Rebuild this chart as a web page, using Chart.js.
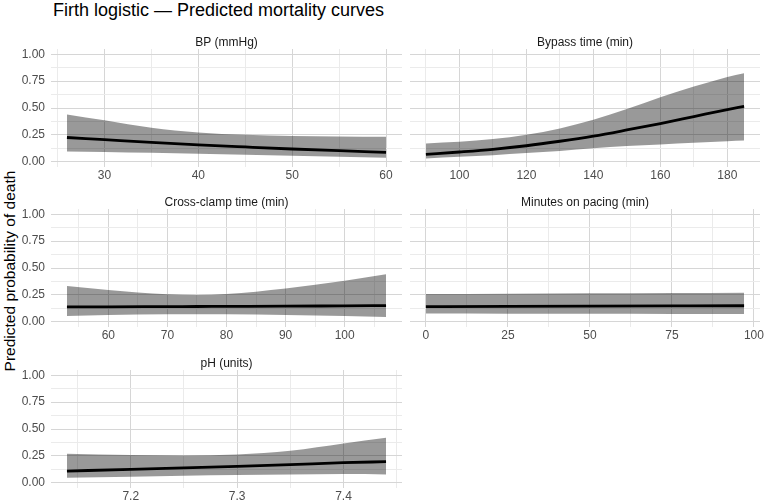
<!DOCTYPE html>
<html>
<head>
<meta charset="utf-8">
<script src="https://cdn.jsdelivr.net/npm/chart.js@4.4.1/dist/chart.umd.min.js"></script>
<style>
  body { margin: 0; background: #fff; }
  #wrap { position: relative; width: 767px; height: 502px; overflow: hidden; font-family: "Liberation Sans", Arial, sans-serif; }
  #wrap canvas { position: absolute; }
  #title { position: absolute; left: 53px; top: 0; font-size: 18px; line-height: 20px; color: #000; white-space: nowrap; }
  #ytitle { position: absolute; left: 10px; top: 271px; font-size: 15.5px; line-height: 18px; color: #000; white-space: nowrap;
            transform: translate(-50%, -50%) rotate(-90deg); }
</style>
</head>
<body>
<div id="wrap">
  <div id="title">Firth logistic — Predicted mortality curves</div>
  <div id="ytitle">Predicted probability of death</div>
</div>
<script>
// titres des panneaux
const panelTitles = ['BP (mmHg)', 'Bypass time (min)', 'Cross-clamp time (min)', 'Minutes on pacing (min)', 'pH (units)']

// BP
const bpX   = [26, 30, 35, 40, 45, 50, 55, 60]
const bpFit = [0.225, 0.205, 0.18, 0.157, 0.137, 0.118, 0.102, 0.087]
const bpLo  = [0.095, 0.09, 0.082, 0.073, 0.064, 0.055, 0.045, 0.036]
const bpHi  = [0.44, 0.385, 0.315, 0.272, 0.25, 0.24, 0.235, 0.232]

// Bypass time
const bypassX   = [90, 100, 110, 120, 130, 140, 150, 160, 170, 180, 185]
const bypassFit = [0.068, 0.09, 0.115, 0.148, 0.19, 0.238, 0.295, 0.355, 0.42, 0.485, 0.515]
const bypassLo  = [0.03, 0.045, 0.06, 0.08, 0.1, 0.125, 0.145, 0.16, 0.175, 0.19, 0.197]
const bypassHi  = [0.17, 0.185, 0.21, 0.25, 0.31, 0.39, 0.49, 0.6, 0.7, 0.79, 0.825]

// Cross-clamp time
const clampX   = [53, 60, 70, 75, 80, 90, 100, 107]
const clampFit = [0.137, 0.138, 0.14, 0.141, 0.142, 0.144, 0.147, 0.149]
const clampLo  = [0.053, 0.062, 0.068, 0.069, 0.068, 0.062, 0.053, 0.043]
const clampHi  = [0.332, 0.295, 0.255, 0.248, 0.258, 0.31, 0.38, 0.441]

// Minutes on pacing
const pacingX   = [0, 25, 50, 75, 97]
const pacingFit = [0.14, 0.142, 0.144, 0.146, 0.148]
const pacingLo  = [0.075, 0.074, 0.073, 0.072, 0.071]
const pacingHi  = [0.258, 0.261, 0.264, 0.267, 0.27]

// pH
const phX   = [7.14, 7.2, 7.25, 7.3, 7.35, 7.4, 7.44]
const phFit = [0.108, 0.124, 0.138, 0.152, 0.168, 0.186, 0.195]
const phLo  = [0.046, 0.056, 0.064, 0.071, 0.076, 0.08, 0.077]
const phHi  = [0.269, 0.257, 0.254, 0.263, 0.297, 0.365, 0.418]

// graduations
const yMajor = [0, 0.25, 0.5, 0.75, 1]
const yMinor = [0.125, 0.375, 0.625, 0.875]
const bpMajor = [30, 40, 50, 60],            bpMinor = [25, 35, 45, 55]
const bypassMajor = [100, 120, 140, 160, 180], bypassMinor = [90, 110, 130, 150, 170]
const clampMajor = [60, 70, 80, 90, 100],     clampMinor = [55, 65, 75, 85, 95, 105]
const pacingMajor = [0, 25, 50, 75, 100],     pacingMinor = [12.5, 37.5, 62.5, 87.5]
const phMajor = [7.2, 7.3, 7.4],              phMinor = [7.15, 7.25, 7.35, 7.45]

const panels = [
  {x: bpX, fit: bpFit, lo: bpLo, hi: bpHi, major: bpMajor, minor: bpMinor, dec: 0, row: 0, col: 0},
  {x: bypassX, fit: bypassFit, lo: bypassLo, hi: bypassHi, major: bypassMajor, minor: bypassMinor, dec: 0, row: 0, col: 1},
  {x: clampX, fit: clampFit, lo: clampLo, hi: clampHi, major: clampMajor, minor: clampMinor, dec: 0, row: 1, col: 0},
  {x: pacingX, fit: pacingFit, lo: pacingLo, hi: pacingHi, major: pacingMajor, minor: pacingMinor, dec: 0, row: 1, col: 1},
  {x: phX, fit: phFit, lo: phLo, hi: phHi, major: phMajor, minor: phMinor, dec: 1, row: 2, col: 0}
]

// position des panneaux (zone de trace)
const rows = [[49, 167], [209, 327], [370, 488]]
const cols = [
  {left: 0, width: 412, padL: 0, padR: 10, yW: 51},
  {left: 400, width: 367, padL: 10, padR: 7, yW: 0}
]
const stripH = 18, xAxisH = 20
const FONT = '"Liberation Sans", Arial, sans-serif'

const isIn = (arr, v) => arr.some(a => Math.abs(a - v) < 1e-9)
const pts = (xs, ys) => xs.map((x, i) => ({x: x, y: ys[i]}))

const stripPlugin = {
  id: 'strip',
  afterDraw(chart, args, opts) {
    const {ctx, chartArea} = chart
    ctx.save()
    ctx.font = '12px ' + FONT
    ctx.fillStyle = '#1a1a1a'
    ctx.textAlign = 'center'
    ctx.textBaseline = 'middle'
    ctx.fillText(opts.text, (chartArea.left + chartArea.right) / 2, chartArea.top - 6)
    ctx.restore()
  }
}

const wrap = document.getElementById('wrap')
panels.forEach((p, i) => {
  const c = cols[p.col]
  const [t, b] = rows[p.row]
  const canvas = document.createElement('canvas')
  const h = b - t + stripH + xAxisH
  canvas.width = c.width
  canvas.height = h
  canvas.style.left = c.left + 'px'
  canvas.style.top = (t - stripH) + 'px'
  canvas.style.width = c.width + 'px'
  canvas.style.height = h + 'px'
  wrap.appendChild(canvas)

  const xmin = Math.min(...p.x), xmax = Math.max(...p.x)
  const span = xmax - xmin
  const xTicks = p.major.concat(p.minor).sort((a, b) => a - b)
  const yTicks = yMajor.concat(yMinor).sort((a, b) => a - b)

  new Chart(canvas.getContext('2d'), {
    type: 'line',
    data: {
      datasets: [
        {data: pts(p.x, p.fit), borderColor: '#000', borderWidth: 2.8, pointRadius: 0, fill: false,
         cubicInterpolationMode: 'monotone'},
        {data: pts(p.x, p.lo), borderWidth: 0, borderColor: 'rgba(0,0,0,0)', pointRadius: 0, fill: false,
         cubicInterpolationMode: 'monotone'},
        {data: pts(p.x, p.hi), borderWidth: 0, borderColor: 'rgba(0,0,0,0)', pointRadius: 0, fill: '-1',
         backgroundColor: 'rgba(0,0,0,0.4)', cubicInterpolationMode: 'monotone'}
      ]
    },
    options: {
      responsive: false,
      animation: false,
      devicePixelRatio: 1,
      layout: {padding: {left: c.padL, right: c.padR, top: stripH, bottom: 0}},
      plugins: {
        legend: {display: false},
        tooltip: {enabled: false},
        strip: {text: panelTitles[i]}
      },
      scales: {
        x: {
          type: 'linear',
          min: xmin - 0.05 * span,
          max: xmax + 0.05 * span,
          afterBuildTicks: s => { s.ticks = xTicks.map(v => ({value: v})) },
          afterFit: s => { s.height = xAxisH },
          border: {display: false},
          grid: {
            drawTicks: false,
            color: ctx => isIn(p.major, ctx.tick.value) ? '#d6d6d6' : '#ebebeb',
            lineWidth: 1
          },
          ticks: {
            autoSkip: false, maxRotation: 0, padding: 1,
            color: '#4d4d4d', font: {family: FONT, size: 12},
            callback: v => isIn(p.major, v) ? v.toFixed(p.dec) : ''
          }
        },
        y: {
          min: -0.05, max: 1.05,
          afterBuildTicks: s => { s.ticks = yTicks.map(v => ({value: v})) },
          afterFit: s => { s.width = c.yW },
          border: {display: false},
          grid: {
            drawTicks: false,
            color: ctx => isIn(yMajor, ctx.tick.value) ? '#d6d6d6' : '#ebebeb',
            lineWidth: 1
          },
          ticks: {
            display: c.yW > 0, autoSkip: false, padding: 6,
            color: '#4d4d4d', font: {family: FONT, size: 12},
            callback: v => isIn(yMajor, v) ? v.toFixed(2) : ''
          }
        }
      }
    },
    plugins: [stripPlugin]
  })
})
</script>
</body>
</html>
